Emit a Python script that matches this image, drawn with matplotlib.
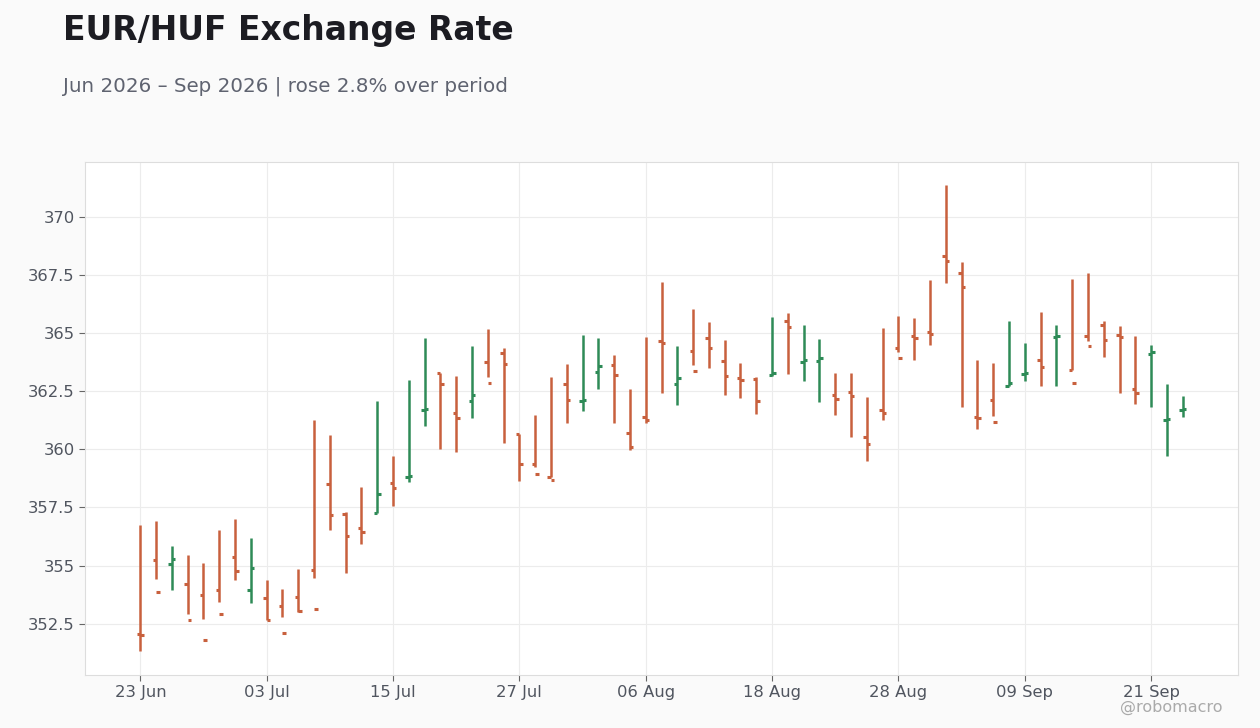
import numpy as np
import pandas as pd
import matplotlib
matplotlib.use("Agg")
import matplotlib.pyplot as plt

# daily EUR/HUF bars, business days from 23 Jun 2026
dates = pd.bdate_range("2026-06-23", periods=67)

opens = [352.05, 355.24, 355.07, 354.21, 353.74, 353.95, 355.37, 353.95, 353.61, 353.26,
         353.65, 354.81, 358.52, 357.22, 356.62, 357.27, 358.54, 358.82, 361.70, 363.26,
         361.57, 362.09, 363.74, 364.12, 360.64, 359.39, 358.83, 362.79, 362.06, 363.31,
         363.61, 360.72, 361.37, 364.64, 362.79, 364.21, 364.77, 363.78, 363.05, 363.01,
         363.18, 365.50, 363.74, 363.78, 362.32, 362.45, 360.55, 361.71, 364.34, 364.86,
         365.03, 368.30, 367.57, 361.41, 362.10, 362.74, 363.22, 363.86, 364.81, 363.43,
         364.86, 365.33, 364.90, 362.61, 364.08, 361.24, 361.67]
highs = [356.74, 356.91, 355.83, 355.45, 355.10, 356.52, 357.00, 356.18, 354.37, 353.98,
         354.84, 361.26, 360.61, 357.32, 358.37, 362.07, 359.71, 362.98, 364.78, 363.29,
         363.15, 364.44, 365.19, 364.37, 360.64, 361.48, 363.12, 363.68, 364.93, 364.80,
         364.07, 362.60, 364.84, 367.21, 364.45, 366.04, 365.49, 364.71, 363.72, 363.11,
         365.70, 365.88, 365.36, 364.76, 363.29, 363.29, 362.26, 365.23, 365.75, 365.66,
         367.26, 371.35, 368.03, 363.85, 363.72, 365.53, 364.58, 365.92, 365.36, 367.30,
         367.56, 365.53, 365.32, 364.89, 364.50, 362.82, 362.30]
lows = [351.32, 354.43, 353.95, 352.92, 352.70, 353.43, 354.38, 353.39, 352.66, 352.79,
        353.02, 354.47, 356.54, 354.68, 355.93, 357.27, 357.57, 358.60, 361.01, 360.02,
        359.89, 361.36, 363.09, 360.29, 358.62, 359.22, 358.83, 361.11, 361.63, 362.58,
        361.11, 359.95, 361.11, 362.40, 361.89, 363.61, 363.48, 362.32, 362.19, 361.50,
        363.13, 363.22, 362.92, 362.02, 361.46, 360.55, 359.48, 361.28, 364.17, 363.86,
        364.47, 367.14, 361.80, 360.89, 361.45, 362.70, 362.92, 362.74, 362.70, 363.43,
        364.64, 363.95, 362.44, 361.93, 361.84, 359.73, 361.37]
closes = [352.00, 353.87, 355.29, 352.66, 351.80, 352.92, 354.77, 354.90, 352.66, 352.10,
          353.05, 353.13, 357.18, 356.28, 356.45, 358.08, 358.34, 358.86, 361.73, 362.82,
          361.36, 362.35, 362.86, 363.65, 359.39, 358.96, 358.66, 362.14, 362.14, 363.57,
          363.18, 360.08, 361.24, 364.56, 363.05, 363.35, 364.34, 363.13, 362.96, 362.06,
          363.26, 365.24, 363.82, 363.91, 362.15, 362.28, 360.25, 361.54, 363.91, 364.77,
          364.94, 368.09, 366.97, 361.36, 361.19, 362.87, 363.26, 363.52, 364.86, 362.87,
          364.43, 364.68, 364.81, 362.44, 364.17, 361.32, 361.75]

up_color = "#2e8b57"
down_color = "#c8603d"

x = np.arange(len(dates))
o = np.array(opens)
h = np.array(highs)
l = np.array(lows)
c = np.array(closes)
colors = [up_color if cc > oo else down_color for oo, cc in zip(o, c)]

fig = plt.figure(figsize=(12.6, 7.28), dpi=100, facecolor="#fafafa")
ax = fig.add_axes([0.0675, 0.0728, 0.915, 0.7047])
ax.set_facecolor("white")

tick = 0.22
ax.vlines(x, l, h, colors=colors, linewidth=1.8)
ax.hlines(o, x - tick, x, colors=colors, linewidth=2.2)
ax.hlines(c, x, x + tick, colors=colors, linewidth=2.2)

ax.set_xlim(-3.5, len(dates) - 1 + 3.5)
ax.set_ylim(350.3, 372.35)
ax.set_yticks([352.5, 355, 357.5, 360, 362.5, 365, 367.5, 370])
ax.set_yticklabels(["352.5", "355", "357.5", "360", "362.5", "365", "367.5", "370"])
xt = x[::8]
ax.set_xticks(xt)
ax.set_xticklabels([dates[i].strftime("%d %b") for i in xt])

ax.grid(True, color="#ececec", linewidth=0.8)
ax.set_axisbelow(True)
for s in ax.spines.values():
    s.set_color("#dddddd")
    s.set_linewidth(0.8)
ax.tick_params(colors="#50555f", labelsize=11.8, length=4, width=0.8)
ax.tick_params(axis="both", color="#666666")

pct = (closes[-1] / opens[0] - 1) * 100
fig.text(0.05, 0.945, "EUR/HUF Exchange Rate", fontsize=23.8, fontweight="bold",
         color="#1c1c22", va="baseline")
fig.text(0.05, 0.874, f"Jun 2026 \u2013 Sep 2026 | rose {pct:.1f}% over period",
         fontsize=14.3, color="#5f6370", va="baseline")
fig.text(0.97, 0.022, "@robomacro", fontsize=11.5, color="#aaaaaa", ha="right",
         va="baseline")

fig.savefig("out.png", dpi=100, facecolor=fig.get_facecolor())
